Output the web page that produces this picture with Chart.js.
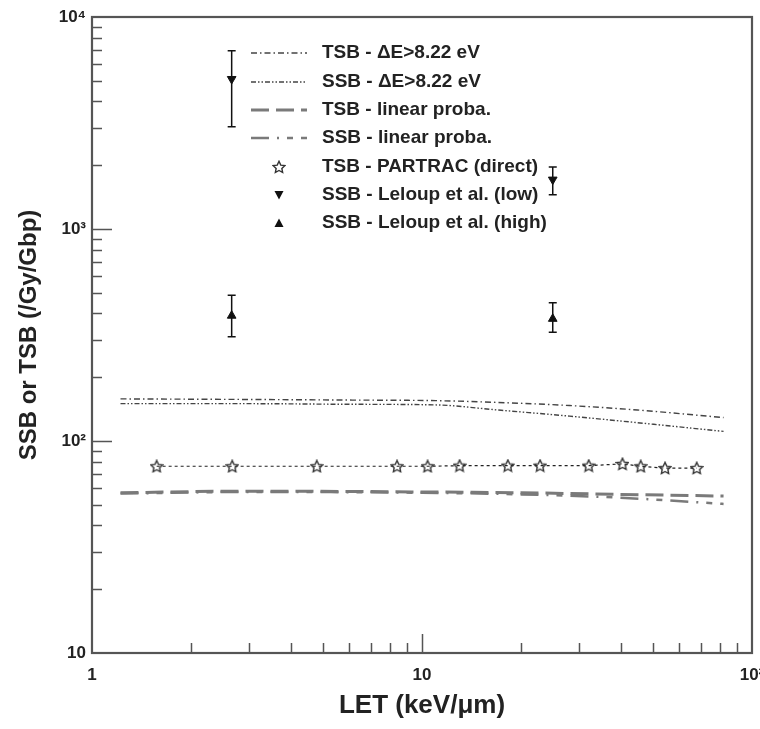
<!DOCTYPE html>
<html><head><meta charset="utf-8">
<script src="https://cdn.jsdelivr.net/npm/chart.js@4.4.1/dist/chart.umd.min.js"></script>
<style>html,body{margin:0;padding:0;background:#fff;}#wrap{width:760px;height:729px;}</style>
</head><body><div id="wrap"><canvas id="c" width="760" height="729"></canvas></div>
<script>
// ---- tick labels ----
const xTickValues = [1, 10, 100];
const xTickLabels = ['1', '10', '10²'];
const yTickValues = [10, 100, 1000, 10000];
const yTickLabels = ['10', '10²', '10³', '10⁴'];

// ---- series ----
const xDeltaE   = [1.22, 3, 6, 11, 17, 28, 45, 82];
const tsbDeltaE = [158, 157, 156, 155, 152, 147, 140, 129];
const ssbDeltaE = [150, 150, 149, 148, 140, 131, 122, 111];

const xLinear   = [1.22, 3, 10, 20, 40, 82];
const tsbLinear = [57, 58, 57.5, 57, 56, 55];
const ssbLinear = [56.5, 57.5, 57, 56, 54, 50.5];

const xPartrac   = [1.57, 2.66, 4.8, 8.4, 10.4, 13.0, 18.2, 22.8, 32, 40.5, 46, 54.5, 68];
const tsbPartrac = [76, 76, 76, 76, 76, 76.5, 76.5, 76.5, 76.5, 78, 76, 74.5, 74.5];

const xLeloup      = [2.65, 24.9];
const ssbLow       = [5100, 1710];
const ssbLowErrLo  = [3040, 1450];
const ssbLowErrHi  = [6930, 1960];
const ssbHigh      = [390, 377];
const ssbHighErrLo = [310, 326];
const ssbHighErrHi = [487, 449];

const legendLabels = [
  'TSB - ΔE>8.22 eV',
  'SSB - ΔE>8.22 eV',
  'TSB - linear proba.',
  'SSB - linear proba.',
  'TSB - PARTRAC (direct)',
  'SSB - Leloup et al. (low)',
  'SSB - Leloup et al. (high)'
];
const xTitle = 'LET (keV/μm)';
const yTitle = 'SSB or TSB (/Gy/Gbp)';

// ---- helpers ----
const pts = (xs, ys) => xs.map((x, i) => ({x: x, y: ys[i]}));
function makeStar() {
  const cv = document.createElement('canvas');
  cv.width = 14; cv.height = 14;
  const g = cv.getContext('2d');
  g.strokeStyle = '#333'; g.lineWidth = 1.4;
  g.beginPath();
  for (let k = 0; k < 10; k++) {
    const r = k % 2 === 0 ? 6.2 : 3;
    const a = -Math.PI / 2 + k * Math.PI / 5;
    const px = 7 + r * Math.cos(a), py = 7.5 + r * Math.sin(a);
    if (k === 0) g.moveTo(px, py); else g.lineTo(px, py);
  }
  g.closePath(); g.stroke();
  return cv;
}
const starImg = makeStar();

const styles = [
  {color: '#444', width: 1.4, dash: [6, 3, 1.5, 3]},
  {color: '#444', width: 1.4, dash: [5, 2, 1.5, 2, 1.5, 2]},
  {color: '#7a7a7a', width: 3, dash: [18, 7]},
  {color: '#7a7a7a', width: 2.5, dash: [18, 8, 2, 8, 6, 8]}
];

const datasets = [
  {data: pts(xDeltaE, tsbDeltaE), borderColor: styles[0].color, borderWidth: styles[0].width, borderDash: styles[0].dash, pointRadius: 0, cubicInterpolationMode: 'monotone'},
  {data: pts(xDeltaE, ssbDeltaE), borderColor: styles[1].color, borderWidth: styles[1].width, borderDash: styles[1].dash, pointRadius: 0, cubicInterpolationMode: 'monotone'},
  {data: pts(xLinear, tsbLinear), borderColor: styles[2].color, borderWidth: styles[2].width, borderDash: styles[2].dash, pointRadius: 0, cubicInterpolationMode: 'monotone'},
  {data: pts(xLinear, ssbLinear), borderColor: styles[3].color, borderWidth: styles[3].width, borderDash: styles[3].dash, pointRadius: 0, cubicInterpolationMode: 'monotone'},
  {data: pts(xPartrac, tsbPartrac), borderColor: '#222', borderWidth: 1.2, borderDash: [3, 3], pointStyle: starImg, pointRadius: 6},
  {data: pts(xLeloup, ssbLow), showLine: false, pointStyle: 'triangle', rotation: 180, pointRadius: 5, backgroundColor: '#111', borderColor: '#111', borderWidth: 1,
    errLo: ssbLowErrLo, errHi: ssbLowErrHi},
  {data: pts(xLeloup, ssbHigh), showLine: false, pointStyle: 'triangle', rotation: 0, pointRadius: 5, backgroundColor: '#111', borderColor: '#111', borderWidth: 1,
    errLo: ssbHighErrLo, errHi: ssbHighErrHi}
];

const frameTicks = {
  id: 'frameTicks',
  beforeDatasetsDraw(chart) {
    const {ctx, chartArea: a, scales: {x, y}} = chart;
    ctx.save();
    ctx.strokeStyle = '#555'; ctx.lineWidth = 1.5;
    const xDec = xTickValues.slice(0, -1), yDec = yTickValues.slice(0, -1);
    ctx.beginPath();
    xDec.forEach(d => { for (let m = 1; m <= 9; m++) {
      const v = d * m; if (v <= xTickValues[0] || v >= xTickValues[xTickValues.length - 1]) continue;
      const px = Math.round(x.getPixelForValue(v)) + 0.5;
      const len = m === 1 ? 19 : 10;
      ctx.moveTo(px, a.bottom); ctx.lineTo(px, a.bottom - len);
    }});
    yDec.forEach(d => { for (let m = 1; m <= 9; m++) {
      const v = d * m; if (v <= yTickValues[0] || v >= yTickValues[yTickValues.length - 1]) continue;
      const py = Math.round(y.getPixelForValue(v)) + 0.5;
      const len = m === 1 ? 20 : 10;
      ctx.moveTo(a.left, py); ctx.lineTo(a.left + len, py);
    }});
    ctx.stroke();
    ctx.lineWidth = 2.2; ctx.strokeStyle = '#555';
    ctx.strokeRect(a.left, a.top, a.right - a.left, a.bottom - a.top);
    ctx.restore();
  },
  afterDatasetsDraw(chart) {
    const {ctx, scales: {x, y}} = chart;
    ctx.save();
    chart.data.datasets.forEach(ds => {
      if (!ds.errLo) return;
      ctx.strokeStyle = '#111'; ctx.lineWidth = 1.5; ctx.setLineDash([]);
      ds.data.forEach((p, i) => {
        const px = x.getPixelForValue(p.x);
        const y1 = y.getPixelForValue(ds.errHi[i]), y2 = y.getPixelForValue(ds.errLo[i]);
        ctx.beginPath();
        ctx.moveTo(px, y1); ctx.lineTo(px, y2);
        ctx.moveTo(px - 4, y1); ctx.lineTo(px + 4, y1);
        ctx.moveTo(px - 4, y2); ctx.lineTo(px + 4, y2);
        ctx.stroke();
      });
    });
    const rowY = [53, 82, 110, 138, 167, 195, 223];
    const x0 = 251, x1 = 307, mx = 279, tx = 322;
    ctx.font = 'bold 19px "Liberation Sans", Arial, sans-serif';
    ctx.textBaseline = 'middle'; ctx.textAlign = 'left';
    legendLabels.forEach((lab, i) => {
      const yy = rowY[i];
      if (i < 4) {
        const s = styles[i];
        ctx.strokeStyle = s.color; ctx.lineWidth = s.width; ctx.setLineDash(s.dash);
        ctx.beginPath(); ctx.moveTo(x0, yy); ctx.lineTo(x1, yy); ctx.stroke();
        ctx.setLineDash([]);
      } else if (i === 4) {
        ctx.drawImage(starImg, mx - 7, yy - 7);
      } else {
        ctx.fillStyle = '#111';
        ctx.beginPath();
        if (i === 5) { ctx.moveTo(mx - 4.5, yy - 4); ctx.lineTo(mx + 4.5, yy - 4); ctx.lineTo(mx, yy + 4.5); }
        else { ctx.moveTo(mx - 4.5, yy + 4); ctx.lineTo(mx + 4.5, yy + 4); ctx.lineTo(mx, yy - 4.5); }
        ctx.closePath(); ctx.fill();
      }
      ctx.fillStyle = '#222';
      ctx.fillText(lab, tx, yy);
    });
    ctx.restore();
  }
};

Chart.defaults.font.family = '"Liberation Sans", Arial, sans-serif';
new Chart(document.getElementById('c'), {
  type: 'line',
  data: {datasets: datasets},
  options: {
    responsive: false, animation: false, devicePixelRatio: 1,
    layout: {padding: {left: 0, right: 8, top: 17, bottom: 0}},
    plugins: {legend: {display: false}, tooltip: {enabled: false}},
    scales: {
      x: {
        type: 'logarithmic', min: 1, max: 100,
        grid: {display: false, drawTicks: false}, border: {display: false},
        afterBuildTicks: s => { s.ticks = xTickValues.map(v => ({value: v})); },
        afterFit: s => { s.height = 76; s.paddingLeft = 0; s.paddingRight = 0; },
        ticks: {autoSkip: false, maxRotation: 0, padding: 12, color: '#222',
          font: {size: 17, weight: 'bold'},
          callback: (v, i) => xTickLabels[i]},
        title: {display: true, text: xTitle, color: '#222', font: {size: 26, weight: 'bold'}, padding: {top: 0, bottom: 8}}
      },
      y: {
        type: 'logarithmic', min: 10, max: 10000,
        grid: {display: false, drawTicks: false}, border: {display: false},
        afterBuildTicks: s => { s.ticks = yTickValues.map(v => ({value: v})); },
        afterFit: s => { s.width = 92; s.paddingTop = 0; s.paddingBottom = 0; },
        ticks: {autoSkip: false, padding: 6, color: '#222',
          font: {size: 17, weight: 'bold'},
          callback: (v, i) => yTickLabels[i]},
        title: {display: true, text: yTitle, color: '#222', font: {size: 24, weight: 'bold'}, padding: {top: 15, bottom: 0}}
      }
    }
  },
  plugins: [frameTicks]
});
</script>
</body></html>
